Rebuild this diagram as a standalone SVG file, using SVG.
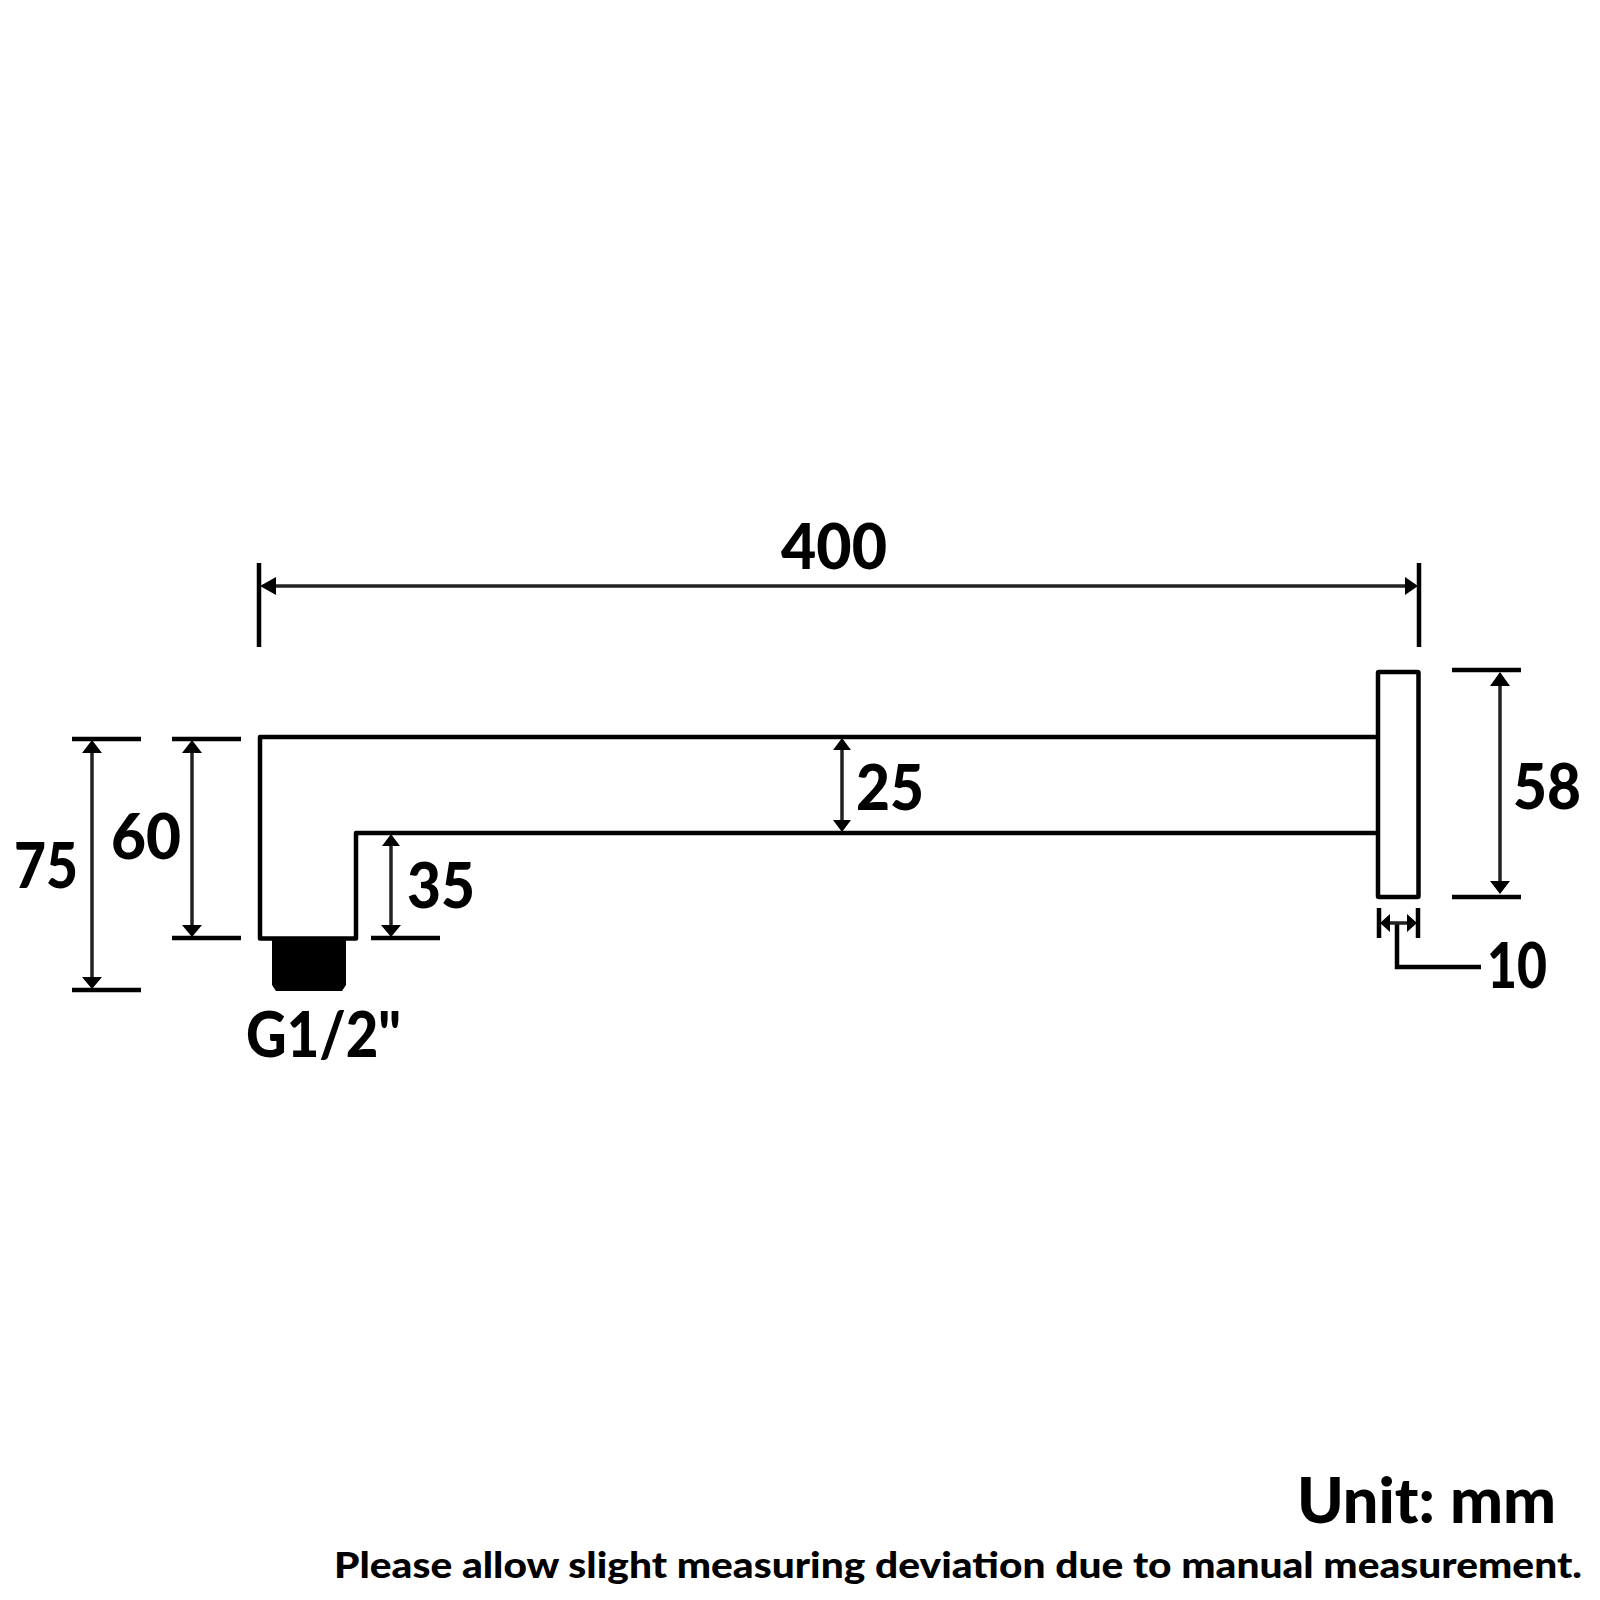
<svg xmlns="http://www.w3.org/2000/svg" width="1600" height="1600" viewBox="0 0 1600 1600">
<style>
.l{stroke:#000;stroke-width:4.500;fill:none}
.d{stroke:#222;stroke-width:3.500;fill:none}
.a{fill:#000}
text{font-family:"Lato","Liberation Sans",sans-serif;font-weight:900;fill:#000}
.n{font-size:62px}
</style>
<rect width="1600" height="1600" fill="#fff"/>
<g id="arm"><path class="l" stroke-linejoin="round" d="M1378 737H260V938.5H356V833H1378"/></g>
<g id="plate"><rect class="l" x="1378" y="672" width="40.500" height="225" rx="1"/></g>
<g id="fitting"><path class="a" d="M272 938H346V985L342 991H276L272 985Z"/></g>
<g id="connectors">
<path class="l" d="M72 739H141M72 990H141M172 739H241M172 938H241M371 938H440M1452 670H1521M1452 897H1521M259 563V647M1419 563V647M1379 908V938M1418 908V938M1397 923V967H1481"/>
<path class="d" d="M92 745V984M192 745V932M391 838V932M1500 676V891M842 743V827M266 586H1412M1384 923H1412"/>
<path class="a" d="M92 740L102 753H82ZM92 989L82 977H102ZM192 740L202 753H182ZM192 937L182 925H202ZM391 834L400 846H382ZM391 937L381 925H401ZM1500 672L1510 686H1490ZM1500 894L1490 881H1510ZM842 738L851 750H833ZM842 832L833 820H851ZM260 586L276 577V595ZM1418 586L1405 577V595ZM1380 923L1390 914V932ZM1417 923L1407 914V932Z"/>
</g>
<g id="labels">
<text class="n" x="781" y="569" textLength="106" lengthAdjust="spacingAndGlyphs">400</text>
<text class="n" x="856" y="810" textLength="68" lengthAdjust="spacingAndGlyphs">25</text>
<text class="n" x="14" y="888" textLength="64" lengthAdjust="spacingAndGlyphs">75</text>
<text class="n" x="111" y="859" textLength="70" lengthAdjust="spacingAndGlyphs">60</text>
<text class="n" x="407" y="908" textLength="68" lengthAdjust="spacingAndGlyphs">35</text>
<text class="n" x="1513" y="809" textLength="68" lengthAdjust="spacingAndGlyphs">58</text>
<text class="n" x="1487" y="988" textLength="60" lengthAdjust="spacingAndGlyphs">10</text>
<text class="n" x="246" y="1057" textLength="155" lengthAdjust="spacingAndGlyphs">G1/2"</text>
<text x="1297" y="1523" font-size="62" textLength="259" lengthAdjust="spacingAndGlyphs">Unit: mm</text>
<text x="334" y="1578" font-size="36" textLength="1248" lengthAdjust="spacingAndGlyphs">Please allow slight measuring deviation due to manual measurement.</text>
</g>
</svg>
